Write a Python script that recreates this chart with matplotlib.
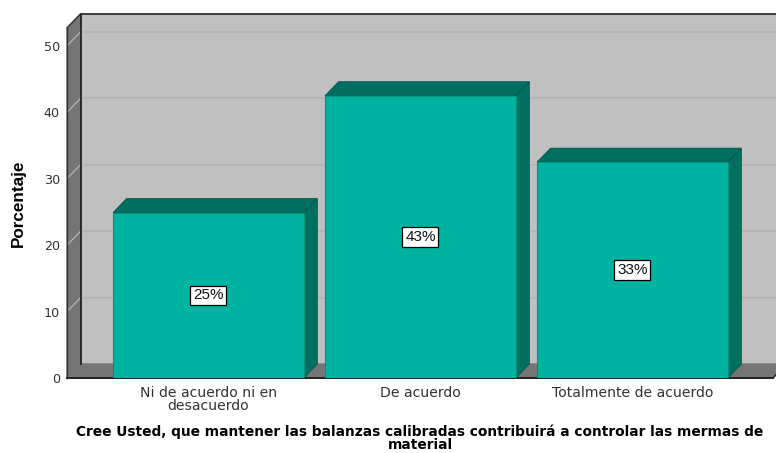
import numpy as np
import matplotlib
matplotlib.use('Agg')
import matplotlib.pyplot as plt

# datos
categorias = ['Ni de acuerdo ni en\ndesacuerdo', 'De acuerdo', 'Totalmente de acuerdo']
porcentaje = [24.9, 42.5, 32.5]
etiquetas = ['25%', '43%', '33%']
ticks_y = [0, 10, 20, 30, 40, 50]
titulo_x = 'Cree Usted, que mantener las balanzas calibradas contribuirá a controlar las mermas de\nmaterial'

plt.rcParams['font.family'] = ['Liberation Sans', 'DejaVu Sans']

W, H = 776, 453
fig = plt.figure(figsize=(W / 100, H / 100), dpi=100)
# plano frontal del grafico, en pixeles
x0, x1, y0, y1 = 67, 773, 378, 28
ax = fig.add_axes([x0 / W, 1 - y0 / H, (x1 - x0) / W, (y0 - y1) / H])

xmin, xmax = -0.667, 2.663
ymax = 52.7
ax.set_xlim(xmin, xmax)
ax.set_ylim(0, ymax)

# profundidad 3D en unidades de datos
dx = 13.5 * (xmax - xmin) / (x1 - x0)
dy = 14 * ymax / (y0 - y1)
ancho = 0.9

gris_pared = '#C0C0C0'
gris_lado = '#757575'
verde = '#00B3A0'
verde_osc = '#006F62'

# pared del fondo
ax.fill([xmin + dx, xmax + 2 * dx, xmax + 2 * dx, xmin + dx],
        [dy, dy, ymax + dy, ymax + dy], color=gris_pared, clip_on=False, zorder=0)
# pared izquierda
ax.fill([xmin, xmin + dx, xmin + dx, xmin], [0, dy, ymax + dy, ymax],
        color=gris_lado, clip_on=False, zorder=1)
# piso
ax.fill([xmin, xmax, xmax + dx, xmin + dx], [0, 0, dy, dy],
        color=gris_lado, clip_on=False, zorder=1)

# lineas de la grilla
for t in ticks_y[1:]:
    ax.plot([xmin + dx, xmax + 2 * dx], [t + dy, t + dy], color='#B4B4B4', lw=1.3,
            clip_on=False, zorder=1)
    ax.plot([xmin, xmin + dx], [t, t + dy], color='#B4B4B4', lw=0.9, clip_on=False, zorder=2)

# bordes
ax.plot([xmin + dx, xmin + dx], [dy, ymax + dy], color='#222222', lw=1.3, clip_on=False, zorder=3)
ax.plot([xmin + dx, xmax + 2 * dx], [ymax + dy, ymax + dy], color='#333333', lw=1.3, clip_on=False, zorder=3)
ax.plot([xmin, xmin + dx], [ymax, ymax + dy], color='#333333', lw=1.0, clip_on=False, zorder=3)
ax.plot([xmin, xmin], [0, ymax], color='#333333', lw=1.0, clip_on=False, zorder=3)
ax.plot([xmin, xmax], [0, 0], color='#222222', lw=1.4, clip_on=False, zorder=3)
ax.plot([xmax, xmax + dx], [0, dy], color='#222222', lw=1.0, clip_on=False, zorder=3)

# barras
pos = np.arange(len(categorias))
ax.bar(pos, porcentaje, width=ancho, color=verde, edgecolor='#00917F', lw=0.8, zorder=5)
for p, v, e in zip(pos, porcentaje, etiquetas):
    iz, de = p - ancho / 2, p + ancho / 2
    ax.fill([iz, de, de + dx, iz + dx], [v, v, v + dy, v + dy], facecolor=verde_osc,
            edgecolor='#00574D', lw=0.6, clip_on=False, zorder=4)
    ax.fill([de, de + dx, de + dx, de], [0, dy, v + dy, v], facecolor=verde_osc,
            edgecolor='#00574D', lw=0.6, clip_on=False, zorder=4)
    ax.text(p, v / 2, e, ha='center', va='center', fontsize=11, color='#111111', zorder=7,
            bbox=dict(boxstyle='square,pad=0.18', facecolor='white', edgecolor='black', lw=0.9))

for s in ax.spines.values():
    s.set_visible(False)
ax.set_xticks(pos)
ax.set_xticklabels(categorias, fontsize=10.1, color='#333333', linespacing=0.92,
                   family=['DejaVu Sans'])
ax.set_yticks(ticks_y)
ax.tick_params(axis='x', length=0, pad=6)
ax.tick_params(axis='y', length=0, pad=5, labelsize=9.2, labelcolor='#333333',
               labelfontfamily='DejaVu Sans')

fig.text(18 / W, 1 - 203 / H, 'Porcentaje', rotation=90, ha='center', va='center',
         fontsize=12.3, fontweight='bold', color='black')
fig.text(420 / W, 1 - 438.5 / H, titulo_x, ha='center', va='center', fontsize=9.9,
         fontweight='bold', color='black', linespacing=0.9, family=['DejaVu Sans'])

fig.savefig('out.png', dpi=100)
